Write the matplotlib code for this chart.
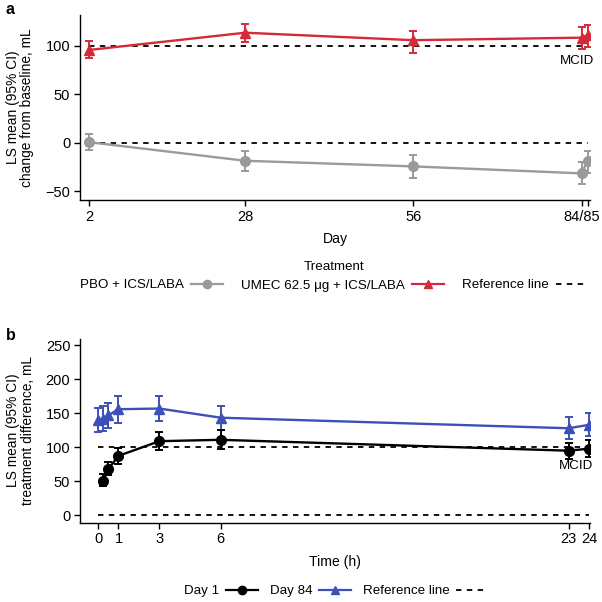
import matplotlib
matplotlib.use("Agg")
import matplotlib.pyplot as plt
from matplotlib.lines import Line2D

plt.rcParams['font.family'] = ['Liberation Sans', 'DejaVu Sans']
plt.rcParams['font.size'] = 9.5

# ---- Panel a data ----
days = [2, 28, 56, 84, 85]
pbo_mean = [0.7, -18.5, -24.3, -31.5, -18.8]
pbo_lo = [-7.5, -29.5, -36.0, -42.0, -30.8]
pbo_hi = [8.9, -7.9, -13.0, -19.5, -7.9]
umec_mean = [95.9, 113.7, 106.0, 108.6, 111.3]
umec_lo = [88.0, 104.5, 92.8, 97.3, 99.0]
umec_hi = [105.0, 122.6, 115.8, 119.9, 121.9]
a_xticks = [2, 28, 56, 84, 85]
a_xticklabels = ['2', '28', '56', '84/85', '']
a_yticks = [-50, 0, 50, 100]

# ---- Panel b data ----
hours_d1 = [0.25, 0.5, 1, 3, 6, 23, 24]
d1_mean = [50, 68, 87.4, 109, 111, 95, 98]
d1_lo = [42.5, 58.6, 75.7, 96, 98, 83, 85.5]
d1_hi = [60, 79, 98.6, 123, 125.5, 107, 111]
hours_d84 = [0, 0.25, 0.5, 1, 3, 6, 23, 24]
d84_mean = [140, 141, 147, 156, 157, 143.5, 128, 133]
d84_lo = [123, 124, 128, 136, 138, 125.5, 112, 116]
d84_hi = [158, 160, 165.5, 175, 176, 161, 145, 151]
b_xticks = [0, 1, 3, 6, 23, 24]
b_yticks = [0, 50, 100, 150, 200, 250]

ref_lines = [0, 100]

RED = '#D42A3A'
GRAY = '#9A9A9A'
BLUE = '#3D4FB8'
BLACK = '#000000'

FS = 9.6
TICK_FS = 10.5

fig = plt.figure(figsize=(6.02, 6.02), dpi=100)
W = H = 602.0

def ax_rect(l, t, r, b):
    return [l / W, 1 - b / H, (r - l) / W, (b - t) / H]

def style(ax):
    for s in ['top', 'right']:
        ax.spines[s].set_visible(False)
    for s in ['left', 'bottom']:
        ax.spines[s].set_linewidth(1.0)
    ax.tick_params(direction='out', length=4, width=1, labelsize=TICK_FS, pad=3)

def errplot(ax, x, m, lo, hi, color, marker, ms):
    yerr = [[mm - l for mm, l in zip(m, lo)], [h - mm for mm, h in zip(m, hi)]]
    ax.errorbar(x, m, yerr=yerr, color=color, marker=marker, markersize=ms,
                linewidth=1.7, elinewidth=1.4, capsize=2.8, capthick=1.4, zorder=3)

dash = (0, (3, 3))

# Panel a
axa = fig.add_axes(ax_rect(80, 15, 590, 200))
style(axa)
for r in ref_lines:
    axa.plot([days[0], days[-1]], [r, r], color='black', linestyle=dash, linewidth=1.3, zorder=2)
errplot(axa, days, pbo_mean, pbo_lo, pbo_hi, GRAY, 'o', 7)
errplot(axa, days, umec_mean, umec_lo, umec_hi, RED, '^', 7)
axa.set_xlim(0.5, 85.4)
axa.set_ylim(-59, 132)
axa.set_xticks(a_xticks)
axa.set_xticklabels(a_xticklabels)
axa.set_yticks(a_yticks)
axa.set_yticklabels(['\u221250', '0', '50', '100'])
axa.set_xlabel('Day', fontsize=FS + 0.5, labelpad=6)
axa.set_ylabel('LS mean (95% CI)\nchange from baseline, mL', fontsize=FS + 0.3, labelpad=8, linespacing=1.05)
axa.text(83.3, 91, 'MCID', ha='center', va='top', fontsize=FS)
fig.text(6 / W, 1 - 10 / H, 'a', fontsize=11.5, fontweight='bold', ha='left', va='center')

legkw = dict(ncol=3, frameon=False, markerfirst=False, fontsize=FS,
             handlelength=2.4, handletextpad=0.5)

handles_a = [Line2D([], [], color=GRAY, marker='o', markersize=6, linewidth=1.6),
             Line2D([], [], color=RED, marker='^', markersize=6, linewidth=1.6),
             Line2D([], [], color='black', linestyle=dash, linewidth=1.3)]
fig.legend(handles_a, ['PBO + ICS/LABA', 'UMEC 62.5 \u03bcg + ICS/LABA', 'Reference line'],
           loc='center', bbox_to_anchor=(334 / W, 1 - 276 / H),
           title='Treatment', title_fontsize=FS, columnspacing=1.4, **legkw)

# Panel b
axb = fig.add_axes(ax_rect(80, 338.5, 590, 522.7))
style(axb)
for r in ref_lines:
    axb.plot([0, 24], [r, r], color='black', linestyle=dash, linewidth=1.3, zorder=2)
errplot(axb, hours_d84, d84_mean, d84_lo, d84_hi, BLUE, '^', 7)
errplot(axb, hours_d1, d1_mean, d1_lo, d1_hi, BLACK, 'o', 7)
axb.set_xlim(-0.88, 24.05)
axb.set_ylim(-10.9, 260)
axb.set_xticks(b_xticks)
axb.set_yticks(b_yticks)
axb.set_xlabel('Time (h)', fontsize=FS + 0.5, labelpad=6)
axb.set_ylabel('LS mean (95% CI)\ntreatment difference, mL', fontsize=FS + 0.3, labelpad=8, linespacing=1.05)
axb.text(23.35, 82, 'MCID', ha='center', va='top', fontsize=FS)
fig.text(6 / W, 1 - 336 / H, 'b', fontsize=11.5, fontweight='bold', ha='left', va='center')

handles_b = [Line2D([], [], color=BLACK, marker='o', markersize=6, linewidth=1.6),
             Line2D([], [], color=BLUE, marker='^', markersize=6, linewidth=1.6),
             Line2D([], [], color='black', linestyle=dash, linewidth=1.3)]
fig.legend(handles_b, ['Day 1', 'Day 84', 'Reference line'],
           loc='center', bbox_to_anchor=(336 / W, 1 - 591 / H), columnspacing=0.9,
           **legkw)

fig.savefig('out.png', dpi=100)
